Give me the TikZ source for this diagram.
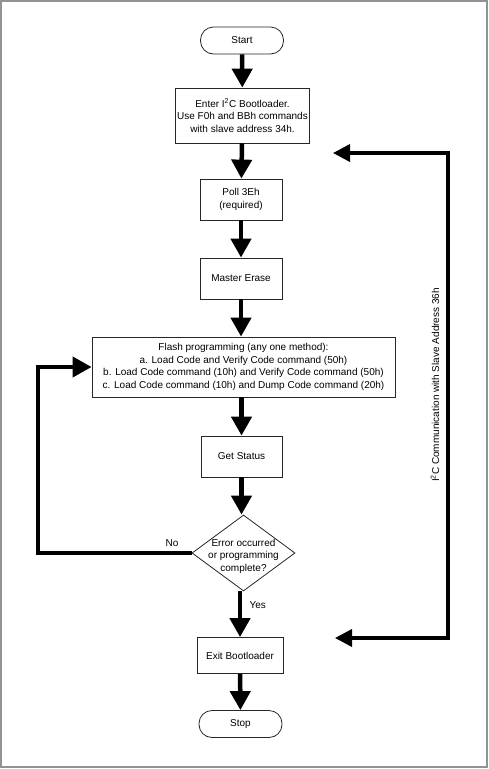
\documentclass[tikz,border=0pt]{standalone}
\usepackage{fontspec}
\setmainfont{Liberation Sans}
\usetikzlibrary{arrows.meta,shapes.geometric}
\begin{document}
\begin{tikzpicture}[x=1pt,y=-1pt,
        every node/.style={font=\fontsize{10}{12.5}\selectfont},
        box/.style={draw=black!85,line width=0.8pt,minimum width=#1,inner sep=0pt,align=center},
        terminal/.style={draw=black!85,line width=0.8pt,rounded corners=13pt,minimum width=83pt,minimum height=27pt,inner sep=0pt},
        decision/.style={draw=black!85,line width=0.8pt,diamond,minimum width=103pt,minimum height=76pt,inner sep=0pt},
        flow/.style={line width=4.5pt,-{Triangle[width=20pt,length=19pt]}},
        comflow/.style={line width=3.5pt,{Triangle[width=17pt,length=17pt]}-{Triangle[width=17pt,length=17pt]}}]
    \useasboundingbox (0,0) rectangle (488,769);
    \draw[gray!85,line width=2pt] (1,1) rectangle (487,767);
    % main column
    \node[terminal] (start) at (242,40.5) {Start};
    \node[box=134pt,minimum height=55pt] (enter) at (242.5,115.5) {Enter I\textsuperscript{2}C Bootloader.\\Use F0h and BBh commands\\with slave address 34h.};
    \node[box=82pt,minimum height=41pt] (poll) at (241,199.5) {Poll 3Eh\\(required)};
    \node[box=82pt,minimum height=41pt] (erase) at (241,278.5) {Master Erase};
    \node[box=303pt,minimum height=60pt] (flash) at (243.5,367) {Flash programming (any one method):\\a. Load Code and Verify Code command (50h)\\b. Load Code command (10h) and Verify Code command (50h)\\c. Load Code command (10h) and Dump Code command (20h)};
    \node[box=81pt,minimum height=41pt] (status) at (241.5,456.5) {Get Status};
    \node[decision] (check) at (243.5,553) {};
    \node[align=center] (checktext) at (243.5,556) {Error occurred\\or programming\\complete?};
    \node[box=86pt,minimum height=36pt] (exit) at (240,655.5) {Exit Bootloader};
    \node[terminal] (stop) at (240.5,724) {Stop};
    % arrows
    \draw[flow] (start) -- (enter);
    \draw[flow] (enter) -- (poll);
    \draw[flow] (poll) -- (erase);
    \draw[flow] (erase) -- (flash.north -| erase);
    \draw[flow] (flash.south -| status) -- (status);
    \draw[flow] (status) -- (check.north -| status);
    \draw[flow] (check.south -| exit) --node[right,pos=0.3,xshift=4pt]{Yes} (exit);
    \draw[flow] (exit) -- (stop);
    % retry loop
    \draw[flow,line width=4pt] (check.west) -- ++(-154,0) coordinate (loopcorner) |- (flash.west);
    \node (no) at (172,543) {No};
    % slave address bracket
    \coordinate (comtop) at (333,153);
    \coordinate (combot) at (335,638);
    \draw[comflow] (combot) -- ++(113,0) |- (comtop);
    \node[rotate=90] (comlabel) at (435,385) {I\textsuperscript{2}C Communication with Slave Address 36h};
\end{tikzpicture}
\end{document}
